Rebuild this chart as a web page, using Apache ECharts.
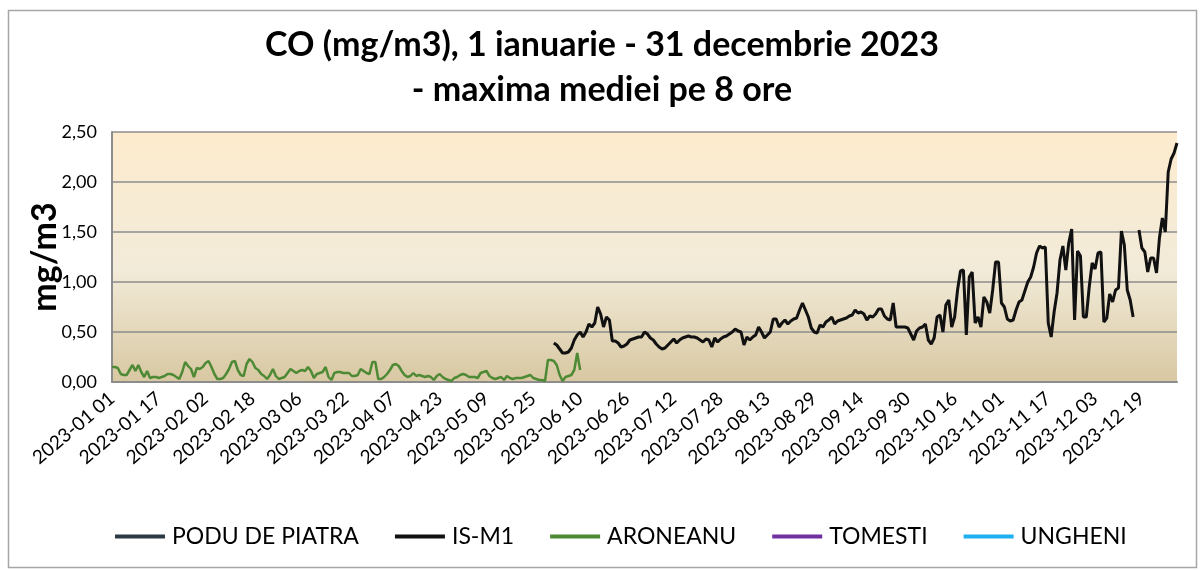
<!DOCTYPE html>
<html>
<head>
<meta charset="utf-8">
<script src="https://cdn.jsdelivr.net/npm/echarts@6/dist/echarts.min.js"></script>
<style>
html,body{margin:0;padding:0;background:#fff;}
#c{width:1204px;height:570px;}
</style>
</head>
<body>
<div id="c"></div>
<script>
// ---- data ----
const titleText = 'CO (mg/m3), 1 ianuarie - 31 decembrie 2023\n- maxima mediei pe 8 ore';
const yAxisName = 'mg/m3';
const seriesNames = ['PODU DE PIATRA', 'IS-M1', 'ARONEANU', 'TOMESTI', 'UNGHENI'];
const seriesColors = ['#2d3a44', '#111111', '#4e8a35', '#7030a0', '#1fb0f0'];
const yTicks = [0, 0.5, 1.0, 1.5, 2.0, 2.5];

// categories: every day of 2023
const categories = [];
(function(){
  const d = new Date(Date.UTC(2023,0,1));
  while (d.getUTCFullYear() === 2023) {
    const m = String(d.getUTCMonth()+1).padStart(2,'0');
    const dd = String(d.getUTCDate()).padStart(2,'0');
    categories.push('2023-' + m + ' ' + dd);
    d.setUTCDate(d.getUTCDate()+1);
  }
})();

// ARONEANU: starts 2023-01-01
const aroneanuStart = 0;
const aroneanu = [
0.15,0.15,0.14,0.08,0.07,0.07,0.12,0.17,0.11,0.17,
0.10,0.05,0.11,0.04,0.05,0.05,0.04,0.05,0.06,0.08,
0.08,0.07,0.05,0.03,0.10,0.20,0.16,0.13,0.05,0.14,
0.13,0.15,0.19,0.21,0.15,0.08,0.03,0.03,0.04,0.08,
0.13,0.20,0.21,0.12,0.07,0.06,0.18,0.23,0.20,0.14,
0.12,0.08,0.06,0.03,0.07,0.13,0.06,0.03,0.04,0.05,
0.09,0.13,0.11,0.09,0.11,0.12,0.11,0.15,0.11,0.04,
0.08,0.09,0.10,0.15,0.05,0.02,0.09,0.10,0.10,0.09,
0.09,0.09,0.06,0.06,0.07,0.13,0.11,0.09,0.08,0.20,
0.20,0.03,0.03,0.05,0.08,0.12,0.17,0.18,0.16,0.11,
0.07,0.05,0.06,0.09,0.06,0.07,0.06,0.05,0.06,0.05,
0.02,0.06,0.08,0.05,0.03,0.02,0.01,0.04,0.05,0.07,
0.08,0.07,0.05,0.05,0.05,0.04,0.09,0.10,0.11,0.06,
0.04,0.03,0.04,0.05,0.02,0.06,0.04,0.03,0.04,0.04,
0.04,0.05,0.06,0.07,0.04,0.03,0.02,0.02,0.01,0.22,
0.22,0.21,0.17,0.07,0.01,0.05,0.06,0.07,0.12,0.29,
0.12
];

// IS-M1: starts 2023-06-01 (day index 151)
const ism1Start = 151;
const ism1 = [
0.39,0.37,0.33,0.29,0.29,0.30,0.34,0.42,0.47,
0.50,0.45,0.50,0.58,0.55,0.59,0.75,0.68,0.55,0.65,
0.62,0.41,0.41,0.39,0.35,0.36,0.38,0.42,0.43,0.44,
0.45,0.45,0.50,0.48,0.44,0.42,0.38,0.35,0.33,0.34,
0.37,0.40,0.43,0.39,0.42,0.44,0.45,0.46,0.45,0.45,
0.44,0.42,0.40,0.43,0.42,0.35,0.44,0.40,0.43,0.45,
0.46,0.48,0.50,0.53,0.51,0.50,0.37,0.45,0.42,0.45,
0.47,0.55,0.50,0.44,0.47,0.50,0.63,0.63,0.55,0.59,
0.62,0.58,0.61,0.63,0.64,0.72,0.79,0.72,0.65,0.54,
0.50,0.49,0.57,0.55,0.60,0.62,0.65,0.58,0.61,0.62,
0.63,0.64,0.66,0.67,0.72,0.69,0.70,0.68,0.62,0.66,
0.65,0.68,0.73,0.73,0.66,0.63,0.62,0.79,0.55,0.55,
0.55,0.55,0.54,0.48,0.42,0.51,0.54,0.55,0.58,0.42,
0.38,0.44,0.65,0.67,0.50,0.77,0.82,0.55,0.65,0.92,
1.11,1.12,0.47,1.05,1.10,0.59,0.65,0.55,0.85,0.80,
0.69,0.92,1.20,1.20,0.79,0.75,0.63,0.61,0.62,0.72,
0.80,0.82,0.91,1.00,1.05,1.15,1.29,1.36,1.34,1.35,
0.59,0.45,0.70,0.89,1.22,1.36,1.12,1.39,1.53,0.62,
1.31,1.26,0.65,0.65,0.95,1.19,1.13,1.29,1.30,0.60,
0.64,0.88,0.80,0.92,0.94,1.51,1.37,0.92,0.82,0.65,
null,1.52,1.34,1.30,1.10,1.24,1.24,1.09,1.44,1.64,
1.50,2.10,2.23,2.29,2.39
];

function place(arr, start){
  const out = new Array(categories.length).fill(null);
  for (let i=0;i<arr.length;i++){ if (start+i < out.length) out[start+i] = arr[i]; }
  return out;
}
const seriesData = [[], place(ism1, ism1Start), place(aroneanu, aroneanuStart), [], []];

const FONT = 'Lato';
const chart = echarts.init(document.getElementById('c'), null, {renderer:'canvas'});
chart.setOption({
  backgroundColor: '#ffffff',
  animation: false,
  textStyle: {fontFamily: FONT},
  title: {
    text: titleText,
    left: 'center',
    top: 18,
    textStyle: {fontFamily: FONT, fontSize: 34, fontWeight: 'bold', color: '#000', lineHeight: 45}
  },
  graphic: [{
    type: 'rect', left: 6, top: 8, silent: true, z: -10,
    shape: {width: 1188, height: 557},
    style: {fill: 'none', stroke: '#a6a6a6', lineWidth: 1.5}
  }],
  legend: {
    data: seriesNames,
    left: 110, top: 520,
    icon: 'rect', itemWidth: 50, itemHeight: 4, itemGap: 36,
    textStyle: {fontFamily: FONT, fontSize: 23, color: '#000', padding: [0,0,0,2]}
  },
  grid: {
    left: 112, right: 27, top: 132, bottom: 188,
    show: true, borderWidth: 0,
    backgroundColor: new echarts.graphic.LinearGradient(0,0,0,1,[
      {offset:0, color:'#fdebcd'},
      {offset:0.55, color:'#f2ebd9'},
      {offset:1, color:'#d8c8a2'}
    ])
  },
  xAxis: {
    type: 'category', data: categories, boundaryGap: false,
    axisLine: {show: true, lineStyle: {color: '#8c8c8c', width: 2}},
    axisTick: {show: false},
    axisLabel: {interval: 15, rotate: 40, fontFamily: FONT, fontSize: 19, color: '#000', margin: 14},
    splitLine: {show: false}
  },
  yAxis: {
    type: 'value', min: 0, max: 2.5, interval: 0.5,
    name: yAxisName, nameLocation: 'middle', nameRotate: 90, nameGap: 50,
    nameMoveOverlap: false,
    nameTextStyle: {fontFamily: FONT, fontSize: 34, fontWeight: 'bold', color: '#000'},
    axisLine: {show: true, lineStyle: {color: '#8c8c8c', width: 2}},
    axisTick: {show: false},
    axisLabel: {fontFamily: FONT, fontSize: 18, color: '#000', margin: 15,
      formatter: v => yTicks.indexOf(v) >= 0 ? v.toFixed(2).replace('.', ',') : ''},
    splitLine: {show: true, lineStyle: {color: '#8c8c8c', width: 1.5}}
  },
  series: seriesNames.map((n, i) => ({
    name: n, type: 'line', data: seriesData[i],
    showSymbol: false, symbol: 'none', connectNulls: false,
    lineStyle: {color: seriesColors[i], width: i === 2 ? 2.5 : 3},
    itemStyle: {color: seriesColors[i]},
    z: i === 2 ? 3 : 2
  }))
});
</script>
</body>
</html>
